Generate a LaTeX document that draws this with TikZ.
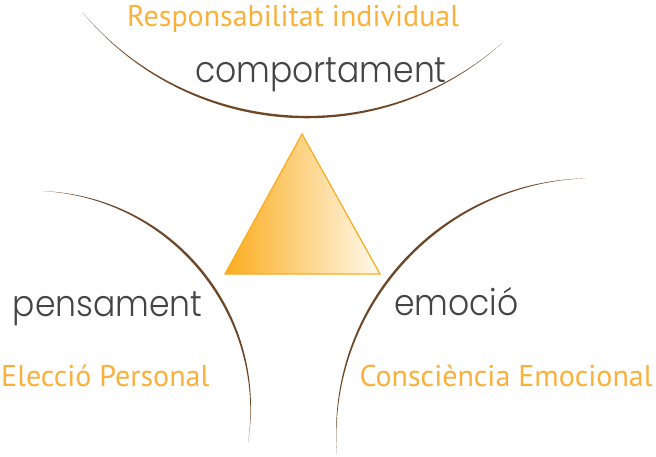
\documentclass[tikz,border=0pt]{standalone}
\usepackage{fontspec}
\setmainfont{PT Sans}
\newfontfamily\thinfont{Poppins Light}
\usetikzlibrary{calc}
\definecolor{labelorange}{RGB}{251,176,59}
\definecolor{wordgray}{RGB}{68,68,68}
\definecolor{arcbrown}{RGB}{110,72,38}
\definecolor{triorange}{RGB}{251,172,30}
\definecolor{trilight}{RGB}{255,250,238}
\tikzset{
quality/.style={text=labelorange, font=\fontsize{30}{30}\selectfont, inner sep=0pt, anchor=base west},
concept/.style={text=wordgray, font=\thinfont\fontsize{33}{33}\selectfont, inner sep=0pt, anchor=base west, yscale=1.1},
arcline/.style={fill=arcbrown}
}
\begin{document}
\begin{tikzpicture}[x=1pt,y=-1pt]
\useasboundingbox (0,0) rectangle (656,456);
\foreach \cx/\cy/\r/\a/\b in {307.2/-176.4/293.5/139.8/48.4, 32.3/409.1/218.3/-87.3/8.9, 593.2/435.2/257/268.55/175.6}
{
\pgfmathsetmacro\k{4/3*tan((\b-\a)/4)*\r}
\pgfmathsetmacro\m{(\a+\b)/2}
\fill[arcline] ($(\cx,\cy)+(\a:\r)$) .. controls ($(\cx,\cy)+(\a:\r)+(\a+90:\k)+(\m:1.6)$) and ($(\cx,\cy)+(\b:\r)-(\b+90:\k)+(\m:1.6)$) .. ($(\cx,\cy)+(\b:\r)$)
 .. controls ($(\cx,\cy)+(\b:\r)-(\b+90:\k)-(\m:1.6)$) and ($(\cx,\cy)+(\a:\r)+(\a+90:\k)-(\m:1.6)$) .. cycle;
}
\coordinate (apex) at (302,134);
\coordinate (right) at (380,274);
\coordinate (left) at (225,274);
\draw[triorange, line width=1.2pt, left color=triorange, right color=trilight] (apex) -- (right) -- (left) -- cycle;

\node[quality] (resp) at (127,26) {Responsabilitat individual};
\node[concept] (comp) at (195,82.5) {comportament};
\node[concept] (pens) at (12.7,316.7) {pensament};
\node[quality] (elec) at (1,386.7) {Elecció Personal};
\node[concept] (emoc) at (394,315.7) {emoció};
\node[quality] (cons) at (359.3,386.7) {Consciència Emocional};
\end{tikzpicture}
\end{document}
